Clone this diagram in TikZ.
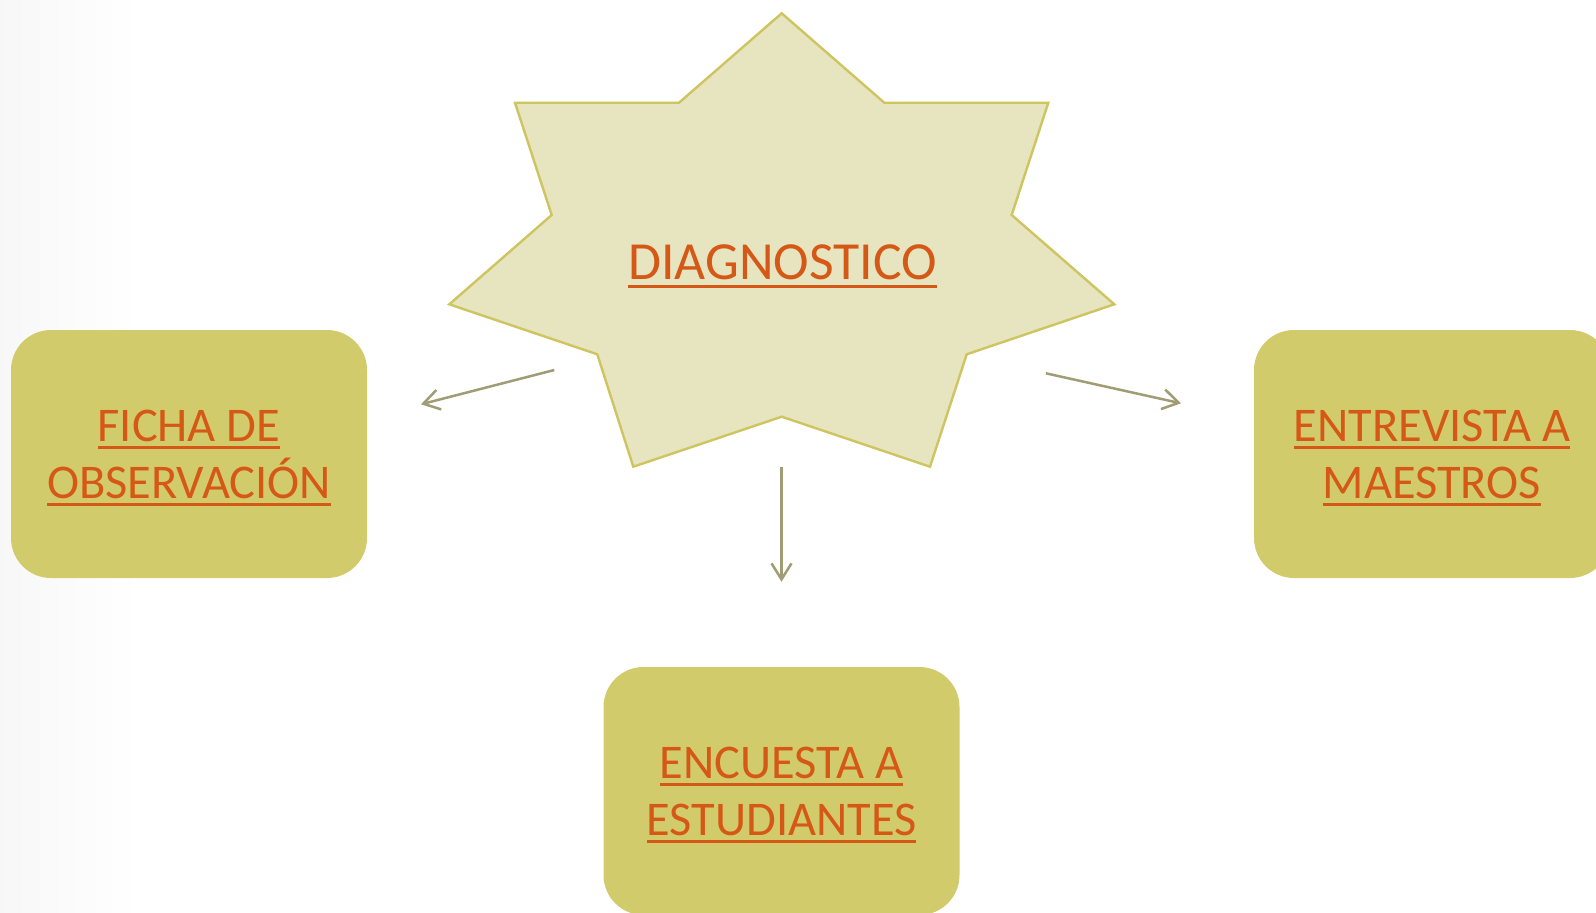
\documentclass[tikz,border=0pt]{standalone}
\usepackage{fontspec}
\setmainfont{Carlito}
\usepackage{tikz}
\usetikzlibrary{arrows.meta}
\newcommand{\undr}[1]{\setbox0\hbox{#1}\rlap{\smash{\rule[-4pt]{\wd0}{1.4pt}}}\box0}

\begin{document}
\begin{tikzpicture}[x=0.5pt,y=0.5pt,yscale=-1,xscale=1,
    box/.style={fill={rgb, 255:red, 210; green, 203; blue, 108 }, rounded corners=20pt,
        minimum width=178pt, minimum height=124pt, inner sep=0pt, align=center,
        text={rgb, 255:red, 213; green, 88; blue, 22 }, font=\fontsize{24.2}{28.5}\selectfont},
    lbl/.style={inner sep=0pt, text={rgb, 255:red, 213; green, 88; blue, 22 }, font=\fontsize{26.8}{31}\selectfont},
    arr/.style={draw={rgb, 255:red, 160; green, 156; blue, 118 }, line width=1.25pt, -{Straight Barb[length=8pt,width=10pt]}}]
        \useasboundingbox (0,0) rectangle (1596,912);
        %Shape: Left shade
        \shade [left color=black!3, right color=white] (0,0) rectangle (140,912);

        %Shape: Star
        \draw [color={rgb, 255:red, 206; green, 196; blue, 96 }, fill={rgb, 255:red, 231; green, 228; blue, 192 }, line width=1.2pt]
            (781.7,13.3) -- (884.3,102.7) -- (1048.3,102.7) -- (1011.7,215) -- (1114.3,304.3) -- (966.7,354.3) -- (930,466.7)
            -- (781.7,416.7) -- (633.3,466.7) -- (597.3,354.3) -- (449.3,304.3) -- (551.7,215) -- (515,102.7) -- (679,102.7) -- cycle ;

        % Text Node
        \draw (782.5,262.5) node [lbl] (diag) {\undr{DIAGNOSTICO}};

        %Shape: Rounded Rect
        \draw (189,454) node [box] (ficha) {\undr{FICHA DE}\\\undr{OBSERVACIÓN}};
        %Shape: Rounded Rect
        \draw (1432,454) node [box] (entrevista) {\undr{ENTREVISTA A}\\\undr{MAESTROS}};
        %Shape: Rounded Rect
        \draw (781.5,791) node [box] (encuesta) {\undr{ENCUESTA A}\\\undr{ESTUDIANTES}};

        % Arrow ends
        \coordinate (lfrom) at (554.3,370);
        \coordinate (lto) at (421,404.3);
        \coordinate (dfrom) at (781.5,467.3);
        \coordinate (dto) at (781.5,581.7);
        \coordinate (rfrom) at (1046,373.3);
        \coordinate (rto) at (1181,403.3);

        %Straight Lines
        \draw [arr] (lfrom) -- (lto) ;
        %Straight Lines
        \draw [arr] (dfrom) -- (dto) ;
        %Straight Lines
        \draw [arr] (rfrom) -- (rto) ;

\end{tikzpicture}
\end{document}
